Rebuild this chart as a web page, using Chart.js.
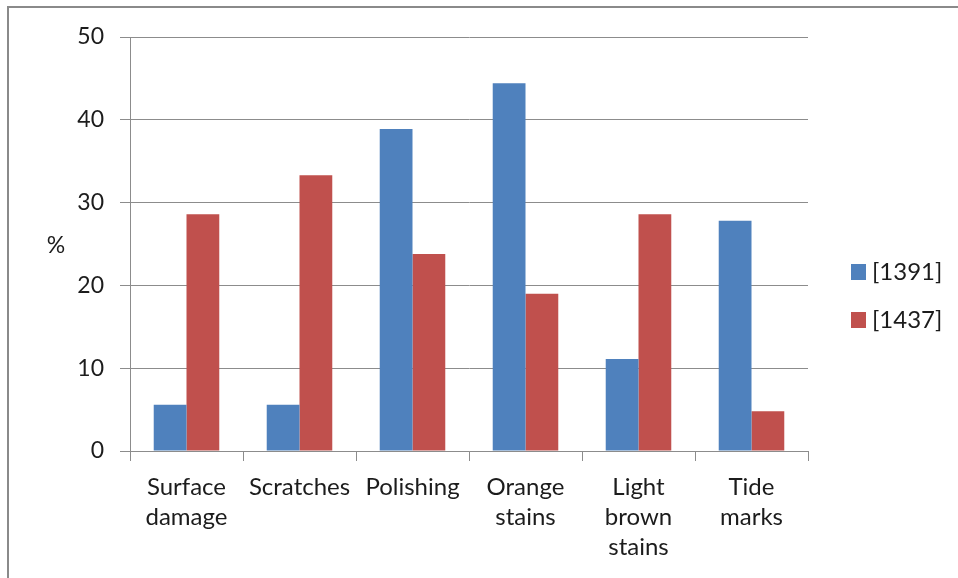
<!DOCTYPE html>
<html>
<head>
<meta charset="utf-8">
<script src="https://cdn.jsdelivr.net/npm/chart.js@4/dist/chart.umd.min.js"></script>
<style>
  html, body { margin:0; padding:0; background:#fff; overflow:hidden; }
  #frame { position:absolute; left:7px; top:6px; width:1000px; height:1000px; border:2px solid #8a8a8a; }
  #wrap { position:absolute; left:0; top:0; width:958px; height:578px; }
</style>
</head>
<body>
<div id="frame"></div>
<div id="wrap"><canvas id="chart" width="958" height="578"></canvas></div>
<script>
// damage types and % of objects showing each, per collection
const categories = [['Surface', 'damage'], 'Scratches', 'Polishing', ['Orange', 'stains'], ['Light', 'brown', 'stains'], ['Tide', 'marks']];
const seriesNames = ['[1391]', '[1437]'];
const values1391 = [5.6, 5.6, 38.9, 44.4, 11.1, 27.8];
const values1437 = [28.6, 33.3, 23.8, 19.0, 28.6, 4.8];
const seriesColors = ['#4F81BD', '#C0504D'];
const yTicks = [0, 10, 20, 30, 40, 50];
const yTitle = '%';

const FONT = 'Lato, "Open Sans", sans-serif';
const TEXT = '#1c1c1c';
const GRID = '#8c8c8c';

// "%" sits horizontally to the left of the value axis
const axisTitle = {
  id: 'axisTitle',
  afterDraw(chart) {
    const {ctx, chartArea} = chart;
    ctx.save();
    ctx.font = '23px ' + FONT;
    ctx.fillStyle = TEXT;
    ctx.textAlign = 'center';
    ctx.textBaseline = 'middle';
    ctx.fillText(yTitle, 56, (chartArea.top + chartArea.bottom) / 2 + 2);
    ctx.restore();
  }
};

// legend stacked on the right, one square + label per dataset
const sideLegend = {
  id: 'sideLegend',
  afterDraw(chart) {
    const {ctx} = chart;
    ctx.save();
    ctx.font = '24px ' + FONT;
    ctx.textBaseline = 'middle';
    chart.data.datasets.forEach((ds, i) => {
      const cy = 272 + i * 48;
      ctx.fillStyle = ds.backgroundColor;
      ctx.fillRect(851, cy - 8, 15, 16);
      ctx.fillStyle = TEXT;
      ctx.fillText(ds.label, 872, cy);
    });
    ctx.restore();
  }
};

new Chart(document.getElementById('chart'), {
  type: 'bar',
  data: {
    labels: categories,
    datasets: [
      {label: seriesNames[0], data: values1391, backgroundColor: seriesColors[0]},
      {label: seriesNames[1], data: values1437, backgroundColor: seriesColors[1]}
    ]
  },
  options: {
    responsive: false,
    animation: false,
    layout: {padding: {left: 0, top: 37, right: 150, bottom: 0}},
    datasets: {bar: {categoryPercentage: 0.58, barPercentage: 1}},
    plugins: {legend: {display: false}, tooltip: {enabled: false}},
    scales: {
      x: {
        afterFit(s) { s.height = 127; },
        grid: {drawOnChartArea: false, drawTicks: true, tickLength: 10, color: GRID, offset: true},
        border: {color: GRID, width: 1},
        ticks: {
          color: TEXT, font: {family: FONT, size: 24, lineHeight: 1.25},
          maxRotation: 0, autoSkip: false, padding: 11
        }
      },
      y: {
        min: yTicks[0], max: yTicks[yTicks.length - 1],
        afterFit(s) { s.width = 130; },
        afterBuildTicks(s) { s.ticks = yTicks.map(v => ({value: v})); },
        grid: {color: GRID, tickLength: 10, lineWidth: 1},
        border: {color: GRID, width: 1},
        ticks: {color: TEXT, font: {family: FONT, size: 23}, padding: 16}
      }
    }
  },
  plugins: [axisTitle, sideLegend]
});
</script>
</body>
</html>
